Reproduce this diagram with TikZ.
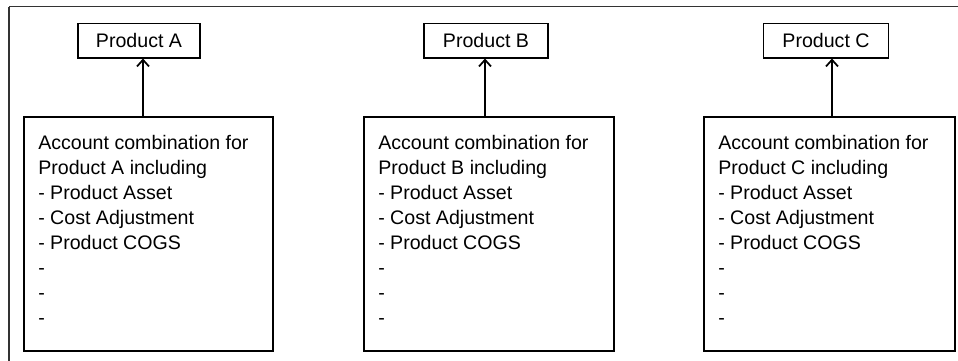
\documentclass[tikz,border=0pt]{standalone}
\usepackage{fontspec}
\setmainfont{Liberation Sans}
\usetikzlibrary{arrows.meta}
\begin{document}
\begin{tikzpicture}[x=0.75pt,y=-0.75pt,
  prodbox/.style={draw=black,line width=1pt,inner sep=0pt,font={\fontsize{14.7}{17}\selectfont}},
  acctbox/.style={draw=black,line width=1pt},
  accttext/.style={inner sep=0pt,anchor=north west,align=left,font={\fontsize{14.7}{18.75}\selectfont}},
  arr/.style={line width=1pt,-{Straight Barb[length=5pt,width=9pt,line width=1.3pt]}},
  frame/.style={draw=black!80,line width=1.3pt}]
\useasboundingbox (0,0) rectangle (958,361);
\draw[frame] (9,6.5) -- (958,6.5);
\draw[frame] (9,6.5) -- (9,361);
% product boxes
\node[prodbox,minimum width=91.5pt,minimum height=26pt] (pA) at (139,40.5) {Product A};
\node[prodbox,minimum width=93pt,minimum height=26pt] (pB) at (486,40.5) {Product B};
\node[prodbox,minimum width=93.5pt,minimum height=26pt] (pC) at (826,40.5) {Product C};
% account boxes
\draw[acctbox] (24,117) rectangle (273,351);
\node[inner sep=0pt,minimum width=186.75pt,minimum height=175.5pt] (bA) at (148.5,234) {};
\draw[acctbox] (364,117) rectangle (614,351);
\node[inner sep=0pt,minimum width=187.5pt,minimum height=175.5pt] (bB) at (489,234) {};
\draw[acctbox] (704,117) rectangle (955,351);
\node[inner sep=0pt,minimum width=188.25pt,minimum height=175.5pt] (bC) at (829.5,234) {};
\node[accttext] (tA) at (38,135.5) {Account combination for\\Product A including\\- Product Asset\\- Cost Adjustment\\- Product COGS\\-\\-\\-};
\node[accttext] (tB) at (378,135.5) {Account combination for\\Product B including\\- Product Asset\\- Cost Adjustment\\- Product COGS\\-\\-\\-};
\node[accttext] (tC) at (718,135.5) {Account combination for\\Product C including\\- Product Asset\\- Cost Adjustment\\- Product COGS\\-\\-\\-};
% arrows
\draw[arr] ([xshift=3pt]pA.south |- bA.north) -- ([xshift=3pt]pA.south);
\draw[arr] ([xshift=-0.75pt]pB.south |- bB.north) -- ([xshift=-0.75pt]pB.south);
\draw[arr] ([xshift=4.5pt]pC.south |- bC.north) -- ([xshift=4.5pt]pC.south);
\end{tikzpicture}
\end{document}
